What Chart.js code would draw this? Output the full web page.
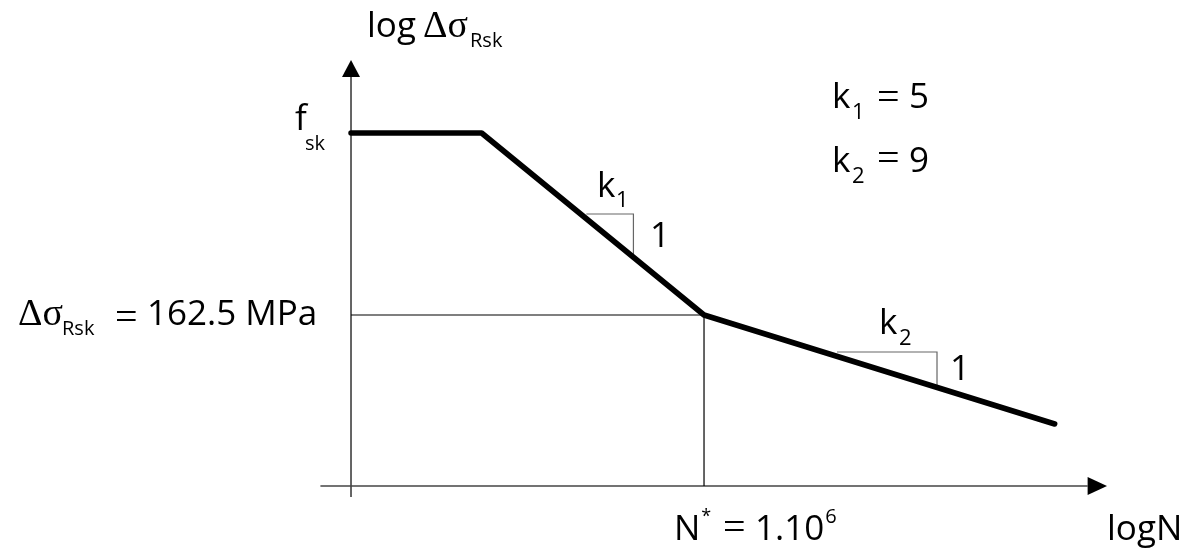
<!DOCTYPE html>
<html>
<head>
<meta charset="utf-8">
<script src="https://cdn.jsdelivr.net/npm/chart.js@4.4.1/dist/chart.umd.min.js"></script>
<style>
  html, body { margin: 0; padding: 0; background: #fff; }
  #sn-chart { display: block; }
</style>
</head>
<body>
<canvas id="sn-chart" width="1200" height="550"></canvas>
<script>
(function () {
    "use strict";

    // Curva S-N (log N, log Δσ)
    const curveLogN = [3, 4.11, 6, 8.98];
    const curveLogS = [3.53, 3.53, 1.71, 0.62];

    // Líneas auxiliares hasta el punto N*
    const guideLogN = [3, 6, 6];
    const guideLogS = [1.71, 1.71, 0];

    // Triángulos de pendiente k1 y k2
    const tri1LogN = [5.0, 5.4, 5.4];
    const tri1LogS = [2.72, 2.72, 2.29];
    const tri2LogN = [7.13, 7.98, 7.98];
    const tri2LogS = [1.34, 1.34, 0.99];

    // Ejes
    const xAxisLogN = [2.74, 9.26];
    const xAxisLogS = [0, 0];
    const yAxisLogN = [3, 3];
    const yAxisLogS = [-0.11, 4.09];
    const xArrowTip = 9.425;
    const yArrowTip = 4.26;

    const toPoints = (xs, ys) => xs.map((x, i) => ({ x: x, y: ys[i] }));

    const sans = '"Open Sans", sans-serif';
    const serif = '"Liberation Serif", serif';

    const lineSet = (xs, ys, color, width) => ({
        data: toPoints(xs, ys),
        showLine: true,
        borderColor: color,
        borderWidth: width,
        pointRadius: 0,
        fill: false,
    });

    // texto: [texto, x (o null = seguir al anterior), y base, tamaño, familia]
    const labels = [
        ["log", 367, 37, 35, sans], ["Δσ", 423, 37, 38, serif], ["Rsk", 470, 47, 20, sans],
        ["f", 295, 130, 35, sans], ["sk", 305, 150, 20, sans],
        ["Δσ", 18, 325, 38, serif], ["Rsk", 62, 335, 20, sans], ["=", 115, 330, 40, serif],
        ["162.5 MPa", 147, 325, 35, sans],
        ["k", 597, 197, 35, sans], ["1", 616, 207, 22, sans], ["1", 650, 247, 35, sans],
        ["k", 879, 334, 35, sans], ["2", 899, 345, 22, sans], ["1", 950, 380, 35, sans],
        ["k", 832, 108, 35, sans], ["1", 852, 119, 22, sans], ["=", 877, 110, 40, serif], ["5", 909, 108, 35, sans],
        ["k", 832, 172, 35, sans], ["2", 852, 183, 22, sans], ["=", 877, 171, 40, serif], ["9", 909, 172, 35, sans],
        ["N", 674, 540, 35, sans], ["*", null, 522, 18, sans], ["=", 723, 540, 40, serif],
        ["1.10", 755, 540, 35, sans], ["6", null, 523, 20, sans],
        ["logN", 1107, 540, 35, sans],
    ];

    const diagramPlugin = {
        id: "diagram",
        afterDatasetsDraw(chart) {
            const ctx = chart.ctx;
            const xs = chart.scales.x;
            const ys = chart.scales.y;
            ctx.save();
            ctx.fillStyle = "#000";

            // flecha eje vertical
            const yx = xs.getPixelForValue(yAxisLogN[1]);
            const yTip = ys.getPixelForValue(yArrowTip);
            const yBase = ys.getPixelForValue(yAxisLogS[1]);
            ctx.beginPath();
            ctx.moveTo(yx, yTip);
            ctx.lineTo(yx - 9, yBase);
            ctx.lineTo(yx + 9, yBase);
            ctx.closePath();
            ctx.fill();

            // flecha eje horizontal
            const xy = ys.getPixelForValue(xAxisLogS[1]);
            const xTip = xs.getPixelForValue(xArrowTip);
            const xBase = xs.getPixelForValue(xAxisLogN[1]);
            ctx.beginPath();
            ctx.moveTo(xTip, xy);
            ctx.lineTo(xBase, xy - 9);
            ctx.lineTo(xBase, xy + 9);
            ctx.closePath();
            ctx.fill();

            ctx.textBaseline = "alphabetic";
            ctx.textAlign = "left";
            let lastEnd = 0;
            labels.forEach(([t, x, y, size, family]) => {
                ctx.font = size + "px " + family;
                const left = x === null ? lastEnd + 1 : x;
                ctx.fillText(t, left, y);
                lastEnd = left + ctx.measureText(t).width;
            });
            ctx.restore();
        },
    };

    const ctx = document.getElementById("sn-chart").getContext("2d");
    new Chart(ctx, {
        type: "scatter",
        data: {
            datasets: [
                Object.assign(lineSet(curveLogN, curveLogS, "#000", 5.5), {
                    borderJoinStyle: "round",
                    borderCapStyle: "round",
                }),
                lineSet(guideLogN, guideLogS, "#000", 1.2),
                lineSet(tri1LogN, tri1LogS, "#666", 1.2),
                lineSet(tri2LogN, tri2LogS, "#666", 1.2),
                lineSet(xAxisLogN, xAxisLogS, "#444", 1.5),
                lineSet(yAxisLogN, yAxisLogS, "#333", 1.5),
            ],
        },
        options: {
            responsive: false,
            animation: false,
            layout: { padding: 0 },
            scales: {
                x: { type: "linear", display: false, min: 0.017, max: 10.215 },
                y: { type: "linear", display: false, min: -0.64, max: 4.86 },
            },
            plugins: {
                legend: { display: false },
                tooltip: { enabled: false },
            },
        },
        plugins: [diagramPlugin],
    });
})();
</script>
</body>
</html>
